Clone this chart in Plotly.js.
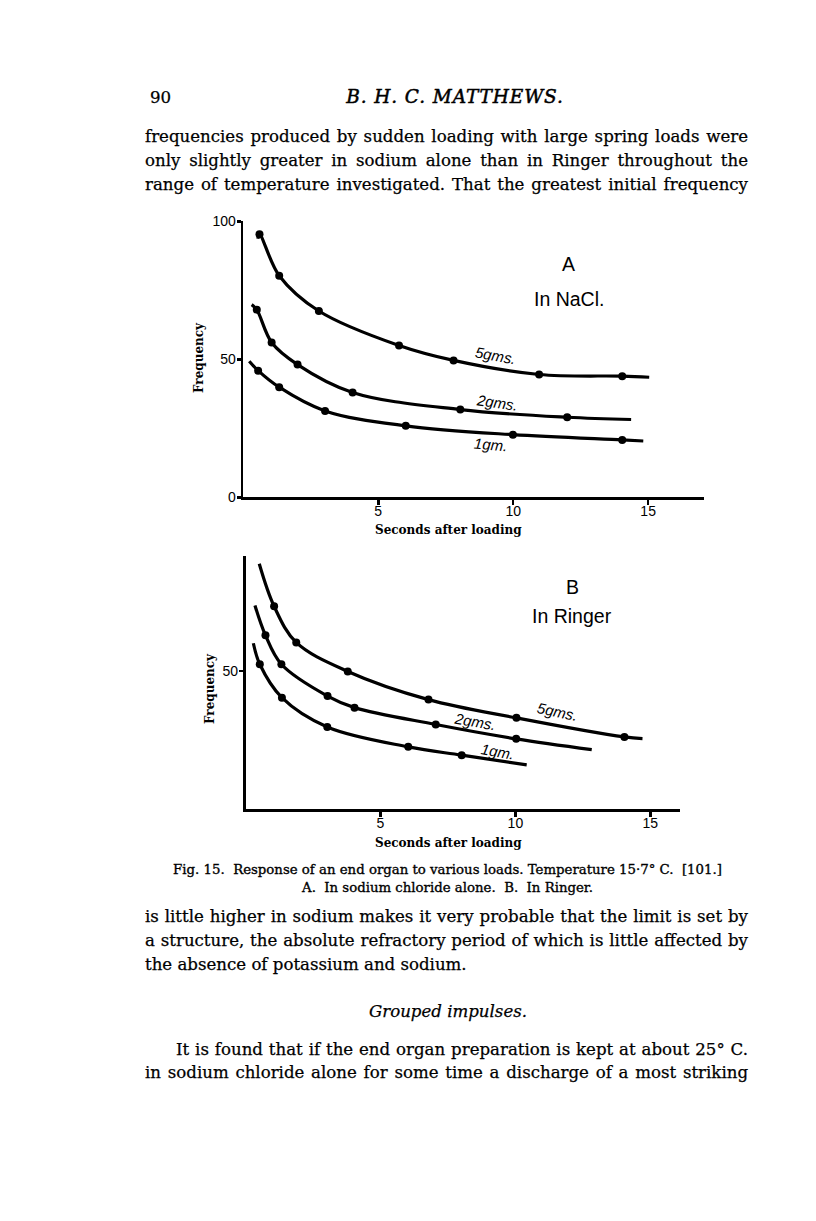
<!DOCTYPE html>
<html>
<head>
<meta charset="utf-8">
<script src="https://cdn.plot.ly/plotly-3.0.1.min.js"></script>
<style>
  html, body { margin: 0; padding: 0; background: #fff; }
  #page { position: relative; width: 816px; height: 1221px; overflow: hidden; background: #fff; }
  #chart { position: absolute; left: 0; top: 0; width: 816px; height: 1221px; }
  .t { position: absolute; font-family: "DejaVu Serif", serif; color: #000; white-space: nowrap; -webkit-text-stroke: 0.25px #000; }
  .body { font-size: 16.6px; line-height: 20px; height: 20px; }
  .just { text-align: justify; text-align-last: justify; white-space: normal; }
  .cap { font-size: 13.3px; line-height: 16px; text-align: center; -webkit-text-stroke: 0.35px #000; }
</style>
</head>
<body>
<div id="page">
  <div id="chart"></div>

  <div class="t body" style="left:150px; top:88px;">90</div>
  <div class="t body" style="left:255px; top:87px; width:400px; text-align:center; font-style:italic; font-size:18.5px; letter-spacing:0.9px; -webkit-text-stroke:0.5px #000;">B. H. C. MATTHEWS.</div>

  <div class="t body just" style="left:145px; top:127px; width:603px;">frequencies produced by sudden loading with large spring loads were</div>
  <div class="t body just" style="left:145px; top:151px; width:603px;">only slightly greater in sodium alone than in Ringer throughout the</div>
  <div class="t body just" style="left:145px; top:175px; width:603px;">range of temperature investigated. That the greatest initial frequency</div>

  <div class="t cap" style="left:147px; top:862px; width:601px;">Fig. 15.&nbsp; Response of an end organ to various loads. Temperature 15·7° C.&nbsp; [101.]</div>
  <div class="t cap" style="left:147px; top:880px; width:601px;">A.&nbsp; In sodium chloride alone.&nbsp; B.&nbsp; In Ringer.</div>

  <div class="t body just" style="left:145px; top:907px; width:603px;">is little higher in sodium makes it very probable that the limit is set by</div>
  <div class="t body just" style="left:145px; top:931px; width:603px;">a structure, the absolute refractory period of which is little affected by</div>
  <div class="t body" style="left:145px; top:955px;">the absence of potassium and sodium.</div>

  <div class="t body" style="left:248px; top:1002px; width:400px; text-align:center; font-style:italic;">Grouped impulses.</div>

  <div class="t body just" style="left:176px; top:1040px; width:572px;">It is found that if the end organ preparation is kept at about 25° C.</div>
  <div class="t body just" style="left:145px; top:1063px; width:603px;">in sodium chloride alone for some time a discharge of a most striking</div>
</div>

<script>
// ---------- Data ----------
// A. In NaCl.
const secondsA5 = [0.60, 1.33, 2.80, 5.77, 7.79, 10.96, 14.04];
const freqA5    = [95.3, 80.3, 67.5, 55.0, 49.6, 44.5, 43.9];
const curveA5X  = [0.54, 15.04];   // drawn curve start / end
const curveA5Y  = [93.7, 43.5];

const secondsA2 = [0.50, 1.05, 2.01, 4.05, 8.04, 12.00];
const freqA2    = [68.0, 56.1, 48.1, 38.0, 31.8, 29.0];
const curveA2X  = [0.31, 14.37];
const curveA2Y  = [69.8, 28.2];

const secondsA1 = [0.55, 1.33, 3.03, 6.02, 9.99, 14.04];
const freqA1    = [45.9, 39.9, 31.3, 25.9, 22.7, 20.8];
const curveA1X  = [0.22, 14.82];
const curveA1Y  = [49.3, 20.4];

// B. In Ringer
const secondsB5 = [1.06, 1.88, 3.79, 6.78, 10.04, 14.04];
const freqB5    = [73.4, 60.3, 49.8, 39.6, 33.0, 26.1];
const curveB5X  = [0.51, 14.71];
const curveB5Y  = [88.8, 25.5];

const secondsB2 = [0.74, 1.33, 3.04, 4.04, 7.05, 10.03];
const freqB2    = [62.9, 52.4, 40.9, 36.7, 30.6, 25.4];
const curveB2X  = [0.35, 12.83];
const curveB2Y  = [73.7, 21.5];

const secondsB1 = [0.53, 1.35, 3.03, 6.03, 8.01];
const freqB1    = [52.4, 40.3, 29.7, 22.5, 19.5];
const curveB1X  = [0.29, 10.42];
const curveB1Y  = [60.0, 16.0];

const xTickVals = [5, 10, 15];
const yTickValsA = [0, 50, 100];
const yTickValsB = [50];
const seriesLabels = ["5gms.", "2gms.", "1gm."];

// ---------- Helpers ----------
const W = 816, H = 1221;
const px = v => v / W;
const py = v => 1 - v / H;

function curve(sx, sy, cx, cy, xa, ya) {
  return {
    x: [cx[0], ...sx, cx[1]], y: [cy[0], ...sy, cy[1]],
    xaxis: xa, yaxis: ya, type: 'scatter', mode: 'lines',
    line: { color: '#000', width: 3.2, shape: 'spline', smoothing: 1 },
    hoverinfo: 'skip', showlegend: false
  };
}
function dots(sx, sy, xa, ya) {
  return {
    x: sx, y: sy, xaxis: xa, yaxis: ya, type: 'scatter', mode: 'markers',
    marker: { color: '#000', size: 8 }, hoverinfo: 'skip', showlegend: false
  };
}

const traces = [
  curve(secondsA5, freqA5, curveA5X, curveA5Y, 'x', 'y'),
  curve(secondsA2, freqA2, curveA2X, curveA2Y, 'x', 'y'),
  curve(secondsA1, freqA1, curveA1X, curveA1Y, 'x', 'y'),
  dots(secondsA5, freqA5, 'x', 'y'),
  dots(secondsA2, freqA2, 'x', 'y'),
  dots(secondsA1, freqA1, 'x', 'y'),
  curve(secondsB5, freqB5, curveB5X, curveB5Y, 'x2', 'y2'),
  curve(secondsB2, freqB2, curveB2X, curveB2Y, 'x2', 'y2'),
  curve(secondsB1, freqB1, curveB1X, curveB1Y, 'x2', 'y2'),
  dots(secondsB5, freqB5, 'x2', 'y2'),
  dots(secondsB2, freqB2, 'x2', 'y2'),
  dots(secondsB1, freqB1, 'x2', 'y2')
];

const tickFont = { family: 'Liberation Sans, Arial, sans-serif', size: 14, color: '#000' };
const axBase = {
  showgrid: false, zeroline: false, showline: true, linecolor: '#000', linewidth: 2.6,
  ticks: 'outside', tickcolor: '#000', tickwidth: 2.6, ticklen: 5, tickfont: tickFont,
  fixedrange: true
};

const serifLbl = { family: 'DejaVu Serif, serif', size: 12, color: '#000' };
const sansBig = { family: 'Liberation Sans, Arial, sans-serif', size: 19.5, color: '#000' };
const sansIt = { family: 'Liberation Sans, Arial, sans-serif', size: 15, color: '#000' };

function ann(o) { return Object.assign({ showarrow: false, xanchor: 'center', yanchor: 'middle' }, o); }

const annotations = [
  // axis titles
  ann({ xref: 'paper', yref: 'paper', x: px(199), y: py(358), text: '<b>Frequency</b>', textangle: -90, font: serifLbl }),
  ann({ xref: 'paper', yref: 'paper', x: px(448), y: py(530), text: '<b>Seconds after loading</b>', font: serifLbl }),
  ann({ xref: 'paper', yref: 'paper', x: px(210), y: py(688), text: '<b>Frequency</b>', textangle: -90, font: serifLbl }),
  ann({ xref: 'paper', yref: 'paper', x: px(448), y: py(843), text: '<b>Seconds after loading</b>', font: serifLbl }),
  // panel labels
  ann({ xref: 'x', yref: 'y', x: 12.05, y: 84.5, text: 'A', font: sansBig }),
  ann({ xref: 'x', yref: 'y', x: 12.05, y: 72.0, text: 'In NaCl.', font: sansBig }),
  ann({ xref: 'x2', yref: 'y2', x: 12.1, y: 80.5, text: 'B', font: sansBig }),
  ann({ xref: 'x2', yref: 'y2', x: 12.1, y: 70.0, text: 'In Ringer', font: sansBig }),
  // series labels A
  ann({ xref: 'x', yref: 'y', x: 9.35, y: 51.3, text: '<i>' + seriesLabels[0] + '</i>', textangle: 10, font: sansIt }),
  ann({ xref: 'x', yref: 'y', x: 9.4, y: 34.3, text: '<i>' + seriesLabels[1] + '</i>', textangle: 8, font: sansIt }),
  ann({ xref: 'x', yref: 'y', x: 9.15, y: 19.0, text: '<i>' + seriesLabels[2] + '</i>', textangle: 5, font: sansIt }),
  // series labels B
  ann({ xref: 'x2', yref: 'y2', x: 11.55, y: 35.3, text: '<i>' + seriesLabels[0] + '</i>', textangle: 12, font: sansIt }),
  ann({ xref: 'x2', yref: 'y2', x: 8.5, y: 31.8, text: '<i>' + seriesLabels[1] + '</i>', textangle: 10, font: sansIt }),
  ann({ xref: 'x2', yref: 'y2', x: 9.35, y: 21.0, text: '<i>' + seriesLabels[2] + '</i>', textangle: 10, font: sansIt })
];

const layout = {
  width: W, height: H, autosize: false,
  margin: { l: 0, r: 0, t: 0, b: 0, pad: 0 },
  paper_bgcolor: 'rgba(0,0,0,0)', plot_bgcolor: 'rgba(0,0,0,0)',
  showlegend: false,
  xaxis:  Object.assign({}, axBase, { domain: [px(243.3), px(704)], range: [0, 17.07], tickvals: xTickVals, anchor: 'y', ticklabelstandoff: -6 }),
  yaxis:  Object.assign({}, axBase, { domain: [py(497.3), py(220.5)], range: [0, 100.3], tickvals: yTickValsA, ticklen: 4, anchor: 'x', ticklabelstandoff: -2 }),
  xaxis2: Object.assign({}, axBase, { domain: [px(245.5), px(680)], range: [0, 16.1], tickvals: xTickVals, anchor: 'y2', ticklabelstandoff: -5 }),
  yaxis2: Object.assign({}, axBase, { domain: [py(809), py(556)], range: [0, 91.6], tickvals: yTickValsB, ticklen: 4, anchor: 'x2', ticklabelstandoff: -2 }),
  annotations: annotations
};

Plotly.newPlot('chart', traces, layout, { staticPlot: true, displayModeBar: false });
</script>
</body>
</html>
